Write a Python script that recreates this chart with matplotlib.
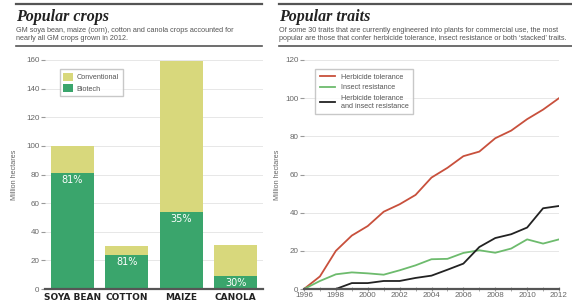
import numpy as np
import matplotlib.pyplot as plt
from matplotlib.lines import Line2D

crops = ["SOYA BEAN", "COTTON", "MAIZE", "CANOLA"]
total = [100, 30, 159, 31]
biotech = [81, 24, 54, 9]
pct_labels = ["81%", "81%", "35%", "30%"]

years = list(range(1996, 2013))
herbicide = [0, 6.6, 20, 28, 33, 40.5, 44.4, 49.3, 58.4, 63.5, 69.6, 72, 79, 83, 89, 94, 100]
insect = [0, 4.2, 7.7, 8.7, 8.2, 7.5, 9.8, 12.4, 15.6, 15.8, 18.9, 20.3, 19, 21.2, 26, 23.8, 26]
stacked = [0, 0, 0, 3.1, 3.1, 4.2, 4.2, 5.8, 7, 10.1, 13.3, 22, 26.7, 28.7, 32.2, 42.3, 43.5]

c_conv = "#d8d87c"
c_bio = "#3aa56c"
c_red = "#c8503c"
c_green = "#6dbb6d"
c_black = "#222222"
grey = "#666666"
sans = ["Liberation Sans", "DejaVu Sans"]

fig = plt.figure(figsize=(5.72, 3.02), dpi=100)
W, H = 572.0, 302.0

def fx(px):
    return px / W

def fy(py):
    return 1 - py / H

# headers
for x0, x1, title, sub in [
    (16, 262, "Popular crops",
     "GM soya bean, maize (corn), cotton and canola crops accounted for\nnearly all GM crops grown in 2012."),
    (279, 572, "Popular traits",
     "Of some 30 traits that are currently engineered into plants for commercial use, the most\npopular are those that confer herbicide tolerance, insect resistance or both \u2018stacked\u2019 traits."),
]:
    fig.add_artist(Line2D([fx(x0), fx(x1)], [fy(4), fy(4)], color="#555555", lw=1.6))
    fig.add_artist(Line2D([fx(x0), fx(x1)], [fy(46), fy(46)], color="#555555", lw=1.2))
    fig.text(fx(x0), fy(21), title, family="Liberation Serif", weight="bold", style="italic",
             fontsize=11.5, color="#222222", va="baseline")
    fig.text(fx(x0), fy(26.5), sub, fontsize=5.2, family=sans, color="#555555", va="top",
             linespacing=1.2)

# left chart: stacked bars
ax1 = fig.add_axes([fx(45), fy(289), fx(263 - 45), (289 - 60) / H])
x = np.arange(len(crops))
ax1.bar(x, biotech, width=0.79, color=c_bio, label="Biotech", zorder=3)
ax1.bar(x, np.array(total) - np.array(biotech), bottom=biotech, width=0.79,
        color=c_conv, label="Conventional", zorder=3)
for xi, b, lab in zip(x, biotech, pct_labels):
    ax1.text(xi, b - 1.5, lab, ha="center", va="top", color="white", fontsize=7)
ax1.set_xlim(-0.5, 3.5)
ax1.set_ylim(0, 160)
ax1.set_yticks(range(0, 161, 20))
ax1.set_xticks(x)
ax1.set_xticklabels(crops, weight="bold", fontsize=6.5, color="#222222")
ax1.tick_params(axis="x", length=0, pad=3)
ax1.set_ylabel("Million hectares", fontsize=5.2, family=sans, color=grey, labelpad=6)
h, l = ax1.get_legend_handles_labels()
ax1.legend(h[::-1], l[::-1], loc="upper left", bbox_to_anchor=(0.05, 0.975),
           prop={"family": sans, "size": 5.2}, frameon=True, fancybox=False,
           edgecolor="#bbbbbb", handlelength=1.3, handleheight=1.3, handletextpad=0.6,
           labelcolor="#555555", borderpad=0.5, labelspacing=0.4)

# right chart: lines
ax2 = fig.add_axes([fx(304), fy(289), fx(559 - 304), (289 - 60) / H])
ax2.plot(years, herbicide, color=c_red, lw=1.3, label="Herbicide tolerance", zorder=3)
ax2.plot(years, insect, color=c_green, lw=1.3, label="Insect resistance", zorder=3)
ax2.plot(years, stacked, color=c_black, lw=1.3,
         label="Herbicide tolerance\nand insect resistance", zorder=3)
ax2.set_xlim(1996, 2012)
ax2.set_ylim(0, 120)
ax2.set_yticks(range(0, 121, 20))
ax2.set_xticks(range(1996, 2013, 2))
ax2.set_xticks(years, minor=True)
ax2.tick_params(axis="x", which="both", length=2.5, direction="inout", color="#999999",
                labelsize=5.8, labelcolor=grey, pad=1)
ax2.set_ylabel("Million hectares", fontsize=5.2, family=sans, color=grey, labelpad=3)
ax2.legend(loc="upper left", bbox_to_anchor=(0.03, 0.975), prop={"family": sans, "size": 5.2},
           frameon=True, fancybox=False, edgecolor="#bbbbbb", handlelength=2.2,
           labelcolor="#555555", borderpad=0.6, labelspacing=0.5)

for ax in (ax1, ax2):
    ax.grid(axis="y", color="#e3e3e3", lw=0.6, zorder=0)
    for s in ("top", "right", "left"):
        ax.spines[s].set_visible(False)
    ax.spines["bottom"].set_color("#555555")
    ax.spines["bottom"].set_linewidth(1.6)
    ax.spines["bottom"].set_zorder(4)
    ax.tick_params(axis="y", length=3, color="#999999", labelsize=5.8, labelcolor=grey, pad=1)
    for t in ax.get_yticklabels():
        t.set_family(sans)
    ax.set_axisbelow(True)
for t in ax2.get_xticklabels():
    t.set_family(sans)

fig.savefig("out.png", dpi=100)
